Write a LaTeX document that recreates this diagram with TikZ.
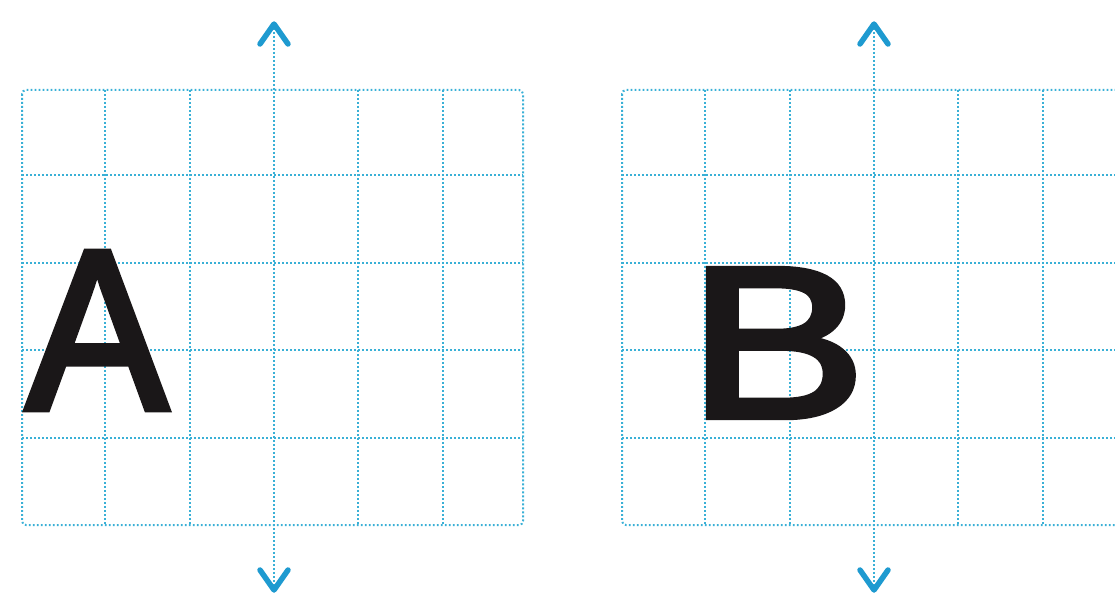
\documentclass[tikz,border=0pt]{standalone}
\usepackage{fontspec}
\usepackage{graphicx}
\setsansfont{Liberation Sans}
\newfontfamily\lettersans[BoldFont=Liberation Sans,BoldFeatures={FakeBold=3}]{Liberation Sans}
\definecolor{gridblue}{HTML}{3AB0D6}
\definecolor{axisblue}{HTML}{1E9AD0}
\definecolor{ink}{HTML}{1A1718}
\tikzset{
  gridline/.style={draw=gridblue,line width=2pt,dash pattern=on 1.8pt off 2.2pt},
  frame/.style={gridline,rounded corners=4pt},
  axis/.style={gridline},
  chevron/.style={draw=axisblue,line width=5.5pt,line cap=round,line join=round},
  glyph/.style={font=\lettersans\bfseries\fontsize{228}{228}\selectfont,text=ink,inner sep=0pt,anchor=base}
}

\begin{document}
\begin{tikzpicture}[x=1pt,y=-1pt]
  \useasboundingbox (0,0) rectangle (1115,599);
  \clip (0,0) rectangle (1115,599);
  % two grids, the second one shifted to the right
  \foreach \dx/\side in {0/A,600/B}{
    \begin{scope}[shift={(\dx,0)}]
      \draw[frame] (22,90) rectangle (523,525);
      \foreach \x in {105,190,358,443}
        \draw[gridline] (\x,90) -- (\x,525);
      \foreach \y in {175,263,350,438}
        \draw[gridline] (22,\y) -- (523,\y);
    \end{scope}
  }
  \node[glyph] (letterA) at (97,409) {\scalebox{0.93}[1]{A}};
  \node[glyph,font=\lettersans\bfseries\fontsize{215}{215}\selectfont] (letterB) at (777,417) {\scalebox{1.24}[1]{B}};
  % the two vertical axes with open heads
  \foreach \xa/\side in {274/A,874/B}{
    \coordinate (top\side) at (\xa,24);
    \coordinate (bottom\side) at (\xa,590);
    \draw[axis] (top\side) -- (bottom\side);
    \draw[chevron] ([shift={(-14,20)}]top\side) -- (top\side) -- ([shift={(14,20)}]top\side);
    \draw[chevron] ([shift={(-14,-20)}]bottom\side) -- (bottom\side) -- ([shift={(14,-20)}]bottom\side);
  }
\end{tikzpicture}
\end{document}
